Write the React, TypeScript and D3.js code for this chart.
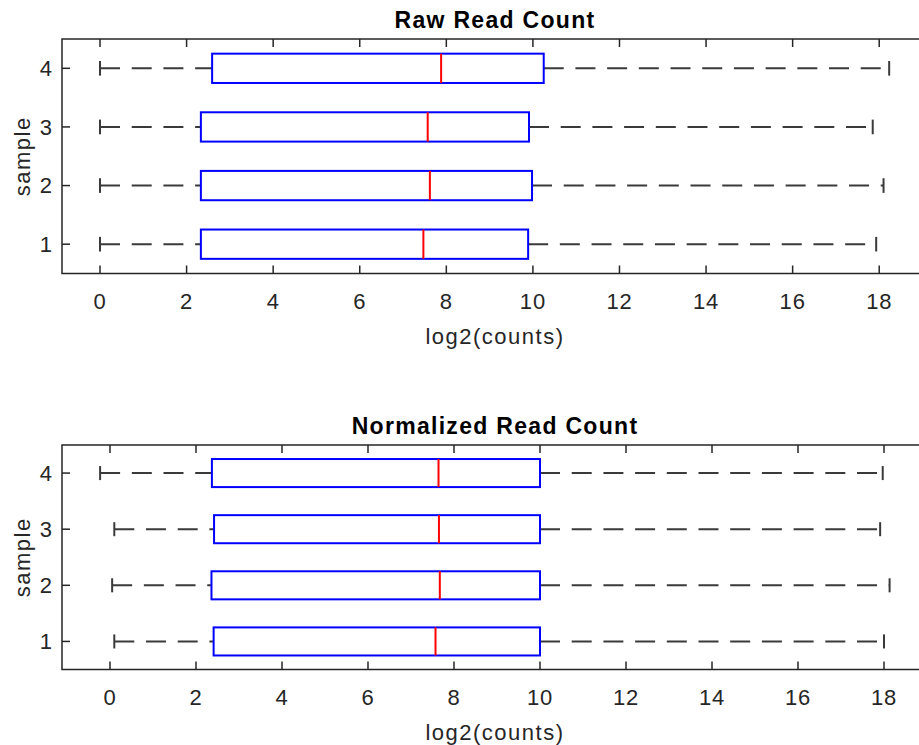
import React from "react";
import * as d3 from "d3";

const samples = [1, 2, 3, 4];
const xTicks = [0, 2, 4, 6, 8, 10, 12, 14, 16, 18];

const rawLower = [0, 0, 0, 0];
const rawQ1 = [2.33, 2.33, 2.33, 2.59];
const rawMedian = [7.47, 7.62, 7.57, 7.88];
const rawQ3 = [9.89, 9.98, 9.91, 10.25];
const rawUpper = [17.93, 18.1, 17.85, 18.23];

const normLower = [0.1, 0.05, 0.1, -0.23];
const normQ1 = [2.41, 2.36, 2.42, 2.37];
const normMedian = [7.57, 7.67, 7.65, 7.64];
const normQ3 = [10.0, 10.0, 10.0, 10.0];
const normUpper = [18.0, 18.13, 17.91, 17.97];

const FONT = "'Liberation Sans', Arial, Helvetica, sans-serif";
const AX = "#262626";

type PanelProps = {
  title: string;
  top: number;
  bottom: number;
  xDomain: [number, number];
  lower: number[];
  q1: number[];
  median: number[];
  q3: number[];
  upper: number[];
};

function Panel({ title, top, bottom, xDomain, lower, q1, median, q3, upper }: PanelProps) {
  const left = 62;
  const right = 928;
  const x = d3.scaleLinear().domain(xDomain).range([left, right]);
  const y = d3.scaleLinear().domain([0.5, 4.5]).range([bottom, top]);
  const halfBox = Math.abs(y(0.25) - y(0));
  const halfCap = Math.abs(y(0.125) - y(0));
  const tickLen = 8;
  const midY = (top + bottom) / 2;
  const line = d3.line<[number, number]>();
  return (
    <g>
      <text x={(left + right) / 2} y={top - 11} textAnchor="middle" fontFamily={FONT}
        fontWeight="bold" fontSize={23} letterSpacing={1.3} fill="#000">{title}</text>
      {/* whiskers */}
      {samples.map((s, i) => (
        <g key={"w" + s}>
          <path d={line([[x(lower[i]), y(s)], [x(q1[i]), y(s)]]) || ""} stroke="#3a3a3a" strokeWidth={2}
            strokeDasharray="20 11.7" fill="none" />
          <path d={line([[x(q3[i]), y(s)], [x(upper[i]), y(s)]]) || ""} stroke="#3a3a3a" strokeWidth={2}
            strokeDasharray="20 11.7" fill="none" />
          <line x1={x(lower[i])} x2={x(lower[i])} y1={y(s) - halfCap} y2={y(s) + halfCap} stroke="#3a3a3a" strokeWidth={2} />
          <line x1={x(upper[i])} x2={x(upper[i])} y1={y(s) - halfCap} y2={y(s) + halfCap} stroke="#3a3a3a" strokeWidth={2} />
        </g>
      ))}
      {/* boxes */}
      {samples.map((s, i) => (
        <g key={"b" + s}>
          <rect x={x(q1[i])} y={y(s) - halfBox} width={x(q3[i]) - x(q1[i])} height={2 * halfBox}
            fill="none" stroke="#0000ff" strokeWidth={2} />
          <line x1={x(median[i])} x2={x(median[i])} y1={y(s) - halfBox} y2={y(s) + halfBox}
            stroke="#ff0000" strokeWidth={2} />
        </g>
      ))}
      {/* axes box */}
      <rect x={left} y={top} width={right - left} height={bottom - top} fill="none" stroke={AX} strokeWidth={1.5} />
      {xTicks.map((t) => (
        <g key={"xt" + t}>
          <line x1={x(t)} x2={x(t)} y1={bottom} y2={bottom - tickLen} stroke={AX} strokeWidth={1.5} />
          <line x1={x(t)} x2={x(t)} y1={top} y2={top + tickLen} stroke={AX} strokeWidth={1.5} />
          <text x={x(t)} y={bottom + 35.5} textAnchor="middle" fontFamily={FONT} fontSize={22}
            letterSpacing={0.8} fill={AX}>{t}</text>
        </g>
      ))}
      {samples.map((s) => (
        <g key={"yt" + s}>
          <line x1={left} x2={left + tickLen} y1={y(s)} y2={y(s)} stroke={AX} strokeWidth={1.5} />
          <line x1={right} x2={right - tickLen} y1={y(s)} y2={y(s)} stroke={AX} strokeWidth={1.5} />
          <text x={52} y={y(s)} dy="0.36em" textAnchor="end" fontFamily={FONT} fontSize={22} fill={AX}>{s}</text>
        </g>
      ))}
      <text x={(left + right) / 2} y={bottom + 70} textAnchor="middle" fontFamily={FONT} fontSize={22}
        letterSpacing={1.5} fill={AX}>log2(counts)</text>
      <text transform={`translate(30,${midY}) rotate(-90)`} textAnchor="middle" fontFamily={FONT}
        fontSize={22} letterSpacing={1.5} fill={AX}>sample</text>
    </g>
  );
}

export default function App() {
  return (
    <div style={{ position: "absolute", left: 0, top: 0 }}>
      <svg width={919} height={745} style={{ display: "block", background: "#fff" }}>
        <rect width={919} height={745} fill="#fff" />
        <Panel title="Raw Read Count" top={39} bottom={273.5} xDomain={[-0.878, 19.127]}
          lower={rawLower} q1={rawQ1} median={rawMedian} q3={rawQ3} upper={rawUpper} />
        <Panel title="Normalized Read Count" top={445} bottom={669.5} xDomain={[-1.116, 19.023]}
          lower={normLower} q1={normQ1} median={normMedian} q3={normQ3} upper={normUpper} />
      </svg>
    </div>
  );
}
